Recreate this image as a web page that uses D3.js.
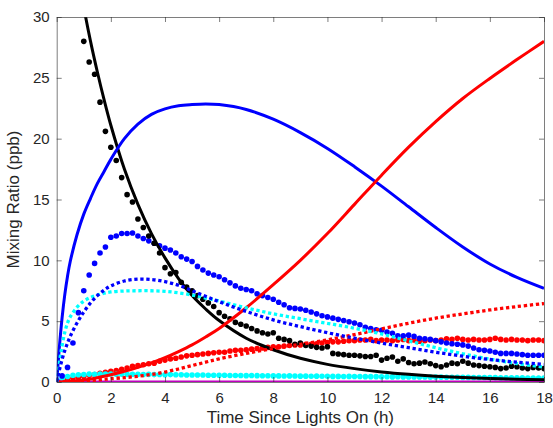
<!doctype html>
<html lang="en">
<head>
<meta charset="utf-8">
<title>Mixing ratio</title>
<script src="https://cdn.jsdelivr.net/npm/d3@7"></script>
<style>
  body { margin: 0; background: #fff; }
  svg text { font-family: "Liberation Sans", Arial, Helvetica, sans-serif; fill: #262626; }
</style>
</head>
<body>
<div id="chart"></div>
<script>
// measured samples, every 0.2 h
const sampleTimes = [
  0, 0.2, 0.4, 0.6, 0.8, 1, 1.2, 1.4, 1.6, 1.8, 2, 2.2, 2.4, 2.6, 2.8,
  3, 3.2, 3.4, 3.6, 3.8, 4, 4.2, 4.4, 4.6, 4.8, 5, 5.2, 5.4, 5.6, 5.8,
  6, 6.2, 6.4, 6.6, 6.8, 7, 7.2, 7.4, 7.6, 7.8, 8, 8.2, 8.4, 8.6, 8.8,
  9, 9.2, 9.4, 9.6, 9.8, 10, 10.2, 10.4, 10.6, 10.8, 11, 11.2, 11.4, 11.6, 11.8,
  12, 12.2, 12.4, 12.6, 12.8, 13, 13.2, 13.4, 13.6, 13.8, 14, 14.2, 14.4, 14.6, 14.8,
  15, 15.2, 15.4, 15.6, 15.8, 16, 16.2, 16.4, 16.6, 16.8, 17, 17.2, 17.4, 17.6, 17.8, 18
];
const blackObs = [
  null, null, null, null, null,
  28.0, 26.3, 25.3, 23.0, 20.6,
  19.3, 18.2, 16.8, 15.4, 14.8,
  13.4, 12.7, 12.0, 11.4, 10.6,
  9.4, 8.9, 9.0, 8.2, 7.8,
  7.5, 7.1, 6.8, 6.5, 6.2,
  5.7, 5.4, 5.2, 4.9, 4.75,
  4.6, 4.4, 4.2, 4.05, 3.95,
  4.05, 3.6, 3.5, 3.4, 3.1,
  3.2, 3.0, 2.95, 2.85, 2.8,
  2.9, 2.35, 2.3, 2.25, 2.2,
  2.2, 2.15, 2.1, 2.1, 2.2,
  1.8, 1.95, 2.05, 1.7, 1.9,
  1.6, 1.5, 1.55, 1.65, 1.5,
  1.35, 1.25, 1.4, 1.55, 1.5,
  1.7, 1.55, 1.4, 1.35, 1.3,
  1.25, 1.2, 1.1, 1.15, 1.3,
  1.25, 1.15, 1.1, 1.2, 1.15,
  1.1
];
const blueObs = [
  0.1, 0.5, 1.2, 3.2, 5.7,
  7.5, 8.8, 9.75, 10.6, 11.1,
  11.9, 12.0, 12.2, 12.2, 12.25,
  12.0, 11.8, 11.6, 11.4, 11.2,
  11.0, 10.85, 10.6, 10.3, 10.1,
  9.9, 9.5, 9.2, 8.95, 8.8,
  8.65, 8.4, 8.15, 7.9, 7.7,
  7.6, 7.5, 7.25, 7.1, 6.95,
  6.8, 6.55, 6.35, 6.1, 6.05,
  6.0, 5.9, 5.75, 5.6, 5.45,
  5.35, 5.25, 5.15, 5.05, 4.95,
  4.85, 4.7, 4.5, 4.4, 4.3,
  4.25, 4.1, 4.0, 3.8, 3.8,
  3.85, 3.75, 3.6, 3.55, 3.5,
  3.4, 3.3, 3.2, 3.15, 3.1,
  3.05, 2.95, 2.8, 2.65, 2.6,
  2.55, 2.45, 2.35, 2.35, 2.35,
  2.3, 2.25, 2.2, 2.2, 2.2,
  2.2
];
const redObs = [
  0.0, 0.1, 0.2, 0.3, 0.38,
  0.45, 0.55, 0.62, 0.72, 0.8,
  0.88, 0.95, 1.05, 1.15, 1.3,
  1.35, 1.42, 1.5, 1.55, 1.7,
  1.8, 1.9, 1.95, 2.05, 2.15,
  2.2, 2.25, 2.3, 2.35, 2.4,
  2.45, 2.45, 2.55, 2.6, 2.6,
  2.65, 2.7, 2.75, 2.8, 2.85,
  2.9, 2.9, 2.95, 3.0, 3.05,
  3.05, 3.1, 3.1, 3.15, 3.2,
  3.25, 3.3, 3.3, 3.35, 3.4,
  3.4, 3.45, 3.45, 3.5, 3.4,
  3.45, 3.45, 3.4, 3.45, 3.5,
  3.4, 3.45, 3.35, 3.4, 3.45,
  3.4, 3.45, 3.55, 3.5, 3.6,
  3.5, 3.45, 3.5, 3.45, 3.45,
  3.5, 3.6, 3.5, 3.45, 3.5,
  3.45, 3.45, 3.4, 3.45, 3.45,
  3.4
];
const cyanObs = [
  0.1, 0.3, 0.45, 0.55, 0.6,
  0.62, 0.65, 0.64, 0.66, 0.65,
  0.66, 0.64, 0.65, 0.63, 0.64,
  0.63, 0.62, 0.63, 0.61, 0.62,
  0.6, 0.61, 0.59, 0.6, 0.58,
  0.58, 0.57, 0.58, 0.56, 0.56,
  0.55, 0.55, 0.54, 0.54, 0.53,
  0.52, 0.53, 0.52, 0.51, 0.51,
  0.5, 0.5, 0.49, 0.5, 0.49,
  0.48, 0.48, 0.47, 0.48, 0.47,
  0.47, 0.46, 0.46, 0.45, 0.46,
  0.45, 0.45, 0.44, 0.44, 0.44,
  0.43, 0.43, 0.42, 0.43, 0.42,
  0.42, 0.41, 0.41, 0.41, 0.4,
  0.4, 0.4, 0.39, 0.39, 0.39,
  0.38, 0.38, 0.37, 0.37, 0.37,
  0.36, 0.36, 0.35, 0.35, 0.35,
  0.34, 0.34, 0.33, 0.33, 0.33,
  0.32
];

// model output
const modelTimes = [0, 0.1, 0.2, 0.3, 0.4, 0.5, 0.75, 1, 1.25, 1.5, 1.75, 2, 2.5, 3, 3.5, 4,
  4.5, 5, 5.5, 6, 7, 8, 9, 10, 11, 12, 13, 14, 15, 16, 17, 18];
const blackModel = [45, 43.3, 41.7, 40.2, 38.7, 37.3, 33.9, 30.8, 28.0, 25.5, 23.2, 21.1, 17.5, 14.6, 12.2, 10.2,
  8.5, 7.1, 6.0, 5.05, 3.6, 2.65, 1.95, 1.45, 1.1, 0.83, 0.63, 0.48, 0.37, 0.29, 0.23, 0.18];
const blueModel = [0, 2.9, 5.3, 7.2, 8.7, 9.9, 12.1, 13.8, 15.1, 16.3, 17.3, 18.3, 20.0, 21.2, 22.0, 22.45,
  22.7, 22.8, 22.85, 22.8, 22.4, 21.6, 20.5, 19.2, 17.7, 16.1, 14.4, 12.7, 11.1, 9.7, 8.6, 7.7];
const redModel = [0, 0, 0.01, 0.02, 0.03, 0.05, 0.1, 0.17, 0.25, 0.35, 0.47, 0.6, 0.88, 1.2, 1.57, 2.0,
  2.5, 3.05, 3.7, 4.4, 6.1, 8.0, 10.0, 12.2, 14.6, 17.0, 19.3, 21.4, 23.3, 24.95, 26.5, 28.0];
const magentaModel = [0, 0, 0, 0, 0, 0, 0, 0, 0, 0, 0, 0, 0, 0, 0, 0,
  0, 0, 0, 0, 0, 0, 0, 0, 0, 0, 0, 0, 0, 0, 0, 0];
const blueModelAlt = [0, 1.0, 1.85, 2.6, 3.2, 3.75, 4.85, 5.75, 6.5, 7.1, 7.55, 7.9, 8.3, 8.45, 8.42, 8.25,
  7.95, 7.5, 7.05, 6.6, 5.8, 5.1, 4.55, 4.05, 3.6, 3.2, 2.82, 2.45, 2.12, 1.85, 1.63, 1.45];
const cyanModelAlt = [0, 1.6, 3.0, 4.1, 4.85, 5.35, 6.15, 6.65, 6.95, 7.15, 7.3, 7.4, 7.48, 7.5, 7.5, 7.45,
  7.33, 7.15, 6.9, 6.65, 6.1, 5.6, 5.2, 4.82, 4.42, 3.95, 3.38, 2.82, 2.32, 1.88, 1.52, 1.22];
const redModelAlt = [0, 0, 0, 0.01, 0.02, 0.03, 0.06, 0.1, 0.13, 0.17, 0.22, 0.27, 0.36, 0.47, 0.62, 0.82,
  1.07, 1.35, 1.63, 1.9, 2.35, 2.75, 3.1, 3.47, 3.9, 4.37, 4.83, 5.25, 5.6, 5.92, 6.2, 6.45];

const xTicks = [0, 2, 4, 6, 8, 10, 12, 14, 16, 18];
const yTicks = [0, 5, 10, 15, 20, 25, 30];

var widthSvg = 553, heightSvg = 428;
var margin = {left: 56.7, top: 17, right: 9, bottom: 46};
var width = widthSvg - margin.left - margin.right,
    height = heightSvg - margin.top - margin.bottom;

var svg = d3.select("#chart").append("svg")
  .attr("width", widthSvg).attr("height", heightSvg)
  .style("background", "#fff");

var xScale = d3.scaleLinear().domain([0, 18]).range([0, width]);
var yScale = d3.scaleLinear().domain([0, 30]).range([height, 0]);

var g = svg.append("g").attr("transform", "translate(" + margin.left + "," + margin.top + ")");

g.append("clipPath").attr("id", "plotClip")
  .append("rect").attr("x", 0).attr("y", 0).attr("width", width).attr("height", height);

var plot = g.append("g").attr("clip-path", "url(#plotClip)");

function seriesPoints(times, values) {
  return times.map((t, i) => ({t: t, v: values[i]})).filter(d => d.v !== null);
}

var line = d3.line()
  .x(d => xScale(d.t))
  .y(d => yScale(d.v))
  .curve(d3.curveCatmullRom.alpha(0.5));

function drawLine(values, color, dotted) {
  var path = plot.append("path")
    .datum(seriesPoints(modelTimes, values))
    .attr("fill", "none")
    .attr("stroke", color)
    .attr("d", line);
  if (dotted) {
    path.attr("stroke-width", 3.3).attr("stroke-dasharray", "3.3,2.7");
  } else {
    path.attr("stroke-width", 3).attr("stroke-linejoin", "round");
  }
}

function drawDots(values, color) {
  plot.append("g").selectAll("circle")
    .data(seriesPoints(sampleTimes, values))
    .enter().append("circle")
    .attr("cx", d => xScale(d.t))
    .attr("cy", d => yScale(d.v))
    .attr("r", 2.8)
    .attr("fill", color);
}

drawDots(redObs, "#ff0000");
drawDots(cyanObs, "#00ffff");
drawDots(blueObs, "#0000ff");
drawDots(blackObs, "#000000");

drawLine(magentaModel, "#bf00bf", false);
drawLine(blackModel, "#000000", false);
drawLine(blueModel, "#0000ff", false);
drawLine(redModel, "#ff0000", false);
drawLine(redModelAlt, "#ff0000", true);
drawLine(cyanModelAlt, "#00ffff", true);
drawLine(blueModelAlt, "#0000ff", true);

// axes, box style with inward ticks
var axisColor = "#262626";
function styleAxis(sel) {
  sel.selectAll(".domain").attr("stroke", axisColor).attr("stroke-width", 0.6);
  sel.selectAll(".tick line").attr("stroke", axisColor).attr("stroke-width", 0.6);
  sel.selectAll(".tick text").attr("fill", axisColor).style("font-size", "15px");
}

g.append("g").attr("transform", "translate(0," + height + ")")
  .call(d3.axisBottom(xScale).tickValues(xTicks).tickSize(-5).tickSizeOuter(0).tickPadding(10))
  .call(styleAxis);
g.append("g")
  .call(d3.axisTop(xScale).tickValues(xTicks).tickSize(-5).tickSizeOuter(0).tickFormat(""))
  .call(styleAxis);
g.append("g")
  .call(d3.axisLeft(yScale).tickValues(yTicks).tickSize(-5).tickSizeOuter(0).tickPadding(7))
  .call(styleAxis);
g.append("g").attr("transform", "translate(" + width + ",0)")
  .call(d3.axisRight(yScale).tickValues(yTicks).tickSize(-5).tickSizeOuter(0).tickFormat(""))
  .call(styleAxis);

svg.append("text")
  .attr("x", margin.left + width / 2)
  .attr("y", 423)
  .attr("text-anchor", "middle")
  .style("font-size", "17px")
  .text("Time Since Lights On (h)");

svg.append("text")
  .attr("transform", "translate(19," + (margin.top + height / 2) + ") rotate(-90)")
  .attr("text-anchor", "middle")
  .style("font-size", "17px")
  .text("Mixing Ratio (ppb)");
</script>
</body>
</html>
